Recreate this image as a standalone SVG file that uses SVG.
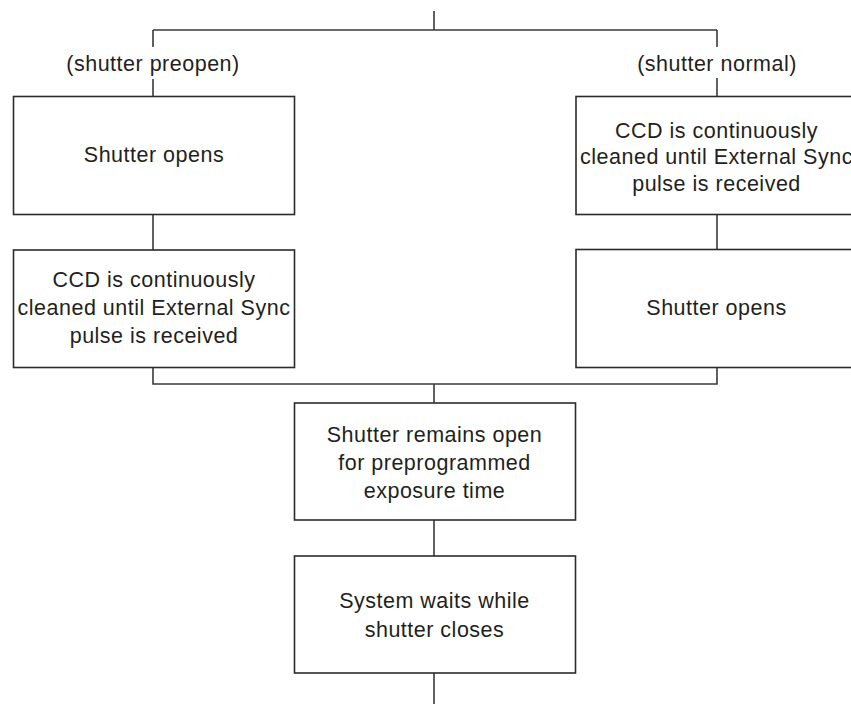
<svg xmlns="http://www.w3.org/2000/svg" width="851" height="704" viewBox="0 0 851 704">
<style>
.box{fill:#fff;stroke:#2b2b2b;stroke-width:1.6}
.ln{fill:none;stroke:#3a3a3a;stroke-width:1.6}
text{font-family:"Liberation Sans",Arial,sans-serif;font-size:21.5px;letter-spacing:0.5px;fill:#231f20;text-anchor:middle}
</style>
<rect width="851" height="704" fill="#fff"/>
<g id="connectors">
<path class="ln" d="M434 11V30M153 30H717M153 30V47M717 30V47M153 79V96M717 78V96"/>
<path class="ln" d="M153 214V250M717 214V249"/>
<path class="ln" d="M153 367V384H717V367M434 384V403"/>
<path class="ln" d="M434 520V556M434 673V704"/>
</g>
<g id="label-preopen"><text x="153" y="71">(shutter preopen)</text></g>
<g id="label-normal"><text x="717" y="71">(shutter normal)</text></g>
<g id="left-shutter-opens">
<rect class="box" x="13.5" y="96.5" width="281" height="118"/>
<text x="154" y="162">Shutter opens</text>
</g>
<g id="left-ccd-cleaned">
<rect class="box" x="13.5" y="250" width="281" height="117.5"/>
<text x="154" y="286.5">CCD is continuously</text>
<text x="154" y="314.5">cleaned until External Sync</text>
<text x="154" y="342.5">pulse is received</text>
</g>
<g id="right-ccd-cleaned">
<rect class="box" x="576" y="96.5" width="281" height="118"/>
<text x="716.5" y="137.5">CCD is continuously</text>
<text x="716.5" y="164">cleaned until External Sync</text>
<text x="716.5" y="190.5">pulse is received</text>
</g>
<g id="right-shutter-opens">
<rect class="box" x="576" y="249.5" width="281" height="118"/>
<text x="716.5" y="315">Shutter opens</text>
</g>
<g id="shutter-remains-open">
<rect class="box" x="294.5" y="403" width="281" height="117"/>
<text x="434.5" y="441.5">Shutter remains open</text>
<text x="434.5" y="470">for preprogrammed</text>
<text x="434.5" y="498">exposure time</text>
</g>
<g id="system-waits">
<rect class="box" x="294.5" y="556" width="281" height="117"/>
<text x="434.5" y="608">System waits while</text>
<text x="434.5" y="636.5">shutter closes</text>
</g>
</svg>
